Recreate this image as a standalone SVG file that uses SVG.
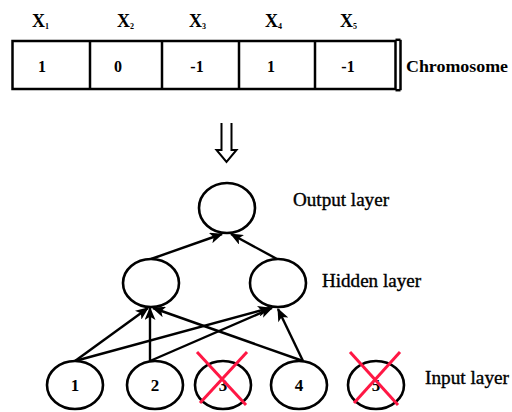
<svg xmlns="http://www.w3.org/2000/svg" width="512" height="412" viewBox="0 0 512 412">
  <style>
    text { font-family: 'Liberation Serif', 'Times New Roman', serif; fill: #000; }
    .gene { font-size: 16px; font-weight: bold; text-anchor: middle; }
    .var { font-size: 18px; font-weight: bold; }
    .sub { font-size: 8px; font-weight: bold; }
    .label { font-size: 18px; stroke: #000; stroke-width: 0.35; }
    .num { font-size: 17px; font-weight: bold; text-anchor: middle; }
    .cell { fill: #fff; stroke: #000; stroke-width: 2.5; }
    .neuron { fill: #fff; stroke: #000; stroke-width: 2.6; }
    .edge { stroke: #000; stroke-width: 2.4; fill: none; marker-end: url(#head); }
    .cross { stroke: #ff1744; stroke-width: 3; stroke-linecap: butt; }
  </style>
  <defs>
    <marker id="head" viewBox="0 0 12 10" refX="11" refY="5" markerWidth="14" markerHeight="11" orient="auto" markerUnits="userSpaceOnUse">
      <path d="M0,0 L12,5 L0,10 L3,5 z" fill="#000"/>
    </marker>
  </defs>
  <rect width="512" height="412" fill="#fff"/>

  <!-- chromosome: gene labels -->
  <g id="gene-labels">
    <text class="var" x="32" y="27">X<tspan class="sub" dy="2">1</tspan></text>
    <text class="var" x="117" y="27">X<tspan class="sub" dy="2">2</tspan></text>
    <text class="var" x="189" y="27">X<tspan class="sub" dy="2">3</tspan></text>
    <text class="var" x="265" y="27">X<tspan class="sub" dy="2">4</tspan></text>
    <text class="var" x="340" y="27">X<tspan class="sub" dy="2">5</tspan></text>
  </g>

  <!-- chromosome: cells -->
  <g id="chromosome">
    <rect class="cell" x="12.5" y="41" width="383" height="48"/>
    <line x1="90" y1="41" x2="90" y2="89" stroke="#000" stroke-width="2.5"/>
    <line x1="162" y1="41" x2="162" y2="89" stroke="#000" stroke-width="2.5"/>
    <line x1="239" y1="41" x2="239" y2="89" stroke="#000" stroke-width="2.5"/>
    <line x1="315" y1="41" x2="315" y2="89" stroke="#000" stroke-width="2.5"/>
    <line x1="400.5" y1="39.8" x2="400.5" y2="90.2" stroke="#000" stroke-width="2.5"/>
    <line x1="395.5" y1="39.8" x2="400.5" y2="39.8" stroke="#000" stroke-width="2.5"/>
    <line x1="395.5" y1="90.2" x2="400.5" y2="90.2" stroke="#000" stroke-width="2.5"/>
    <text class="gene" x="42" y="72">1</text>
    <text class="gene" x="118" y="72">0</text>
    <text class="gene" x="197" y="72">-1</text>
    <text class="gene" x="271" y="72">1</text>
    <text class="gene" x="348" y="72">-1</text>
    <text x="406" y="72" font-size="17" font-weight="bold" textLength="102" lengthAdjust="spacingAndGlyphs">Chromosome</text>
  </g>

  <!-- mapping arrow -->
  <g id="mapping-arrow" fill="none" stroke="#000" stroke-width="2" stroke-linejoin="miter">
    <path d="M221.5,123 V150 H216.5 L226.5,162 L236.5,150 H231.5 V123"/>
  </g>

  <!-- connectors -->
  <g id="connectors">
    <line class="edge" x1="151" y1="259" x2="222" y2="234"/>
    <line class="edge" x1="277" y1="259" x2="231" y2="234"/>
    <line class="edge" x1="75" y1="361" x2="148" y2="308"/>
    <line class="edge" x1="150" y1="361" x2="150" y2="308"/>
    <line class="edge" x1="303" y1="361" x2="153" y2="308"/>
    <line class="edge" x1="75" y1="361" x2="270" y2="308"/>
    <line class="edge" x1="150" y1="361" x2="272" y2="308"/>
    <line class="edge" x1="303" y1="361" x2="278" y2="309"/>
  </g>

  <!-- output layer -->
  <g id="output-node">
    <ellipse class="neuron" cx="227" cy="208" rx="28" ry="25"/>
  </g>

  <!-- hidden layer -->
  <g id="hidden-1">
    <ellipse class="neuron" cx="151" cy="283" rx="28" ry="24"/>
  </g>
  <g id="hidden-2">
    <ellipse class="neuron" cx="278" cy="283" rx="28" ry="24"/>
  </g>

  <!-- input layer -->
  <g id="input-1">
    <ellipse class="neuron" cx="75" cy="385" rx="28" ry="24"/>
    <text class="num" x="75" y="391">1</text>
  </g>
  <g id="input-2">
    <ellipse class="neuron" cx="155" cy="385" rx="28" ry="24"/>
    <text class="num" x="155" y="391">2</text>
  </g>
  <g id="input-3">
    <ellipse class="neuron" cx="223" cy="385" rx="28" ry="24"/>
    <text class="num" x="223" y="391">3</text>
    <line class="cross" x1="197" y1="352" x2="246" y2="405"/>
    <line class="cross" x1="247" y1="352" x2="200" y2="403"/>
  </g>
  <g id="input-4">
    <ellipse class="neuron" cx="299" cy="385" rx="28" ry="24"/>
    <text class="num" x="299" y="391">4</text>
  </g>
  <g id="input-5">
    <ellipse class="neuron" cx="376" cy="385" rx="28" ry="24"/>
    <text class="num" x="376" y="391">5</text>
    <line class="cross" x1="350" y1="352" x2="398" y2="405"/>
    <line class="cross" x1="400" y1="352" x2="354" y2="403"/>
  </g>

  <!-- layer labels -->
  <g id="layer-labels">
    <text class="label" x="293" y="206" textLength="96" lengthAdjust="spacingAndGlyphs">Output layer</text>
    <text class="label" x="322" y="287" textLength="99" lengthAdjust="spacingAndGlyphs">Hidden layer</text>
    <text class="label" x="425" y="384" textLength="84" lengthAdjust="spacingAndGlyphs">Input layer</text>
  </g>
</svg>
